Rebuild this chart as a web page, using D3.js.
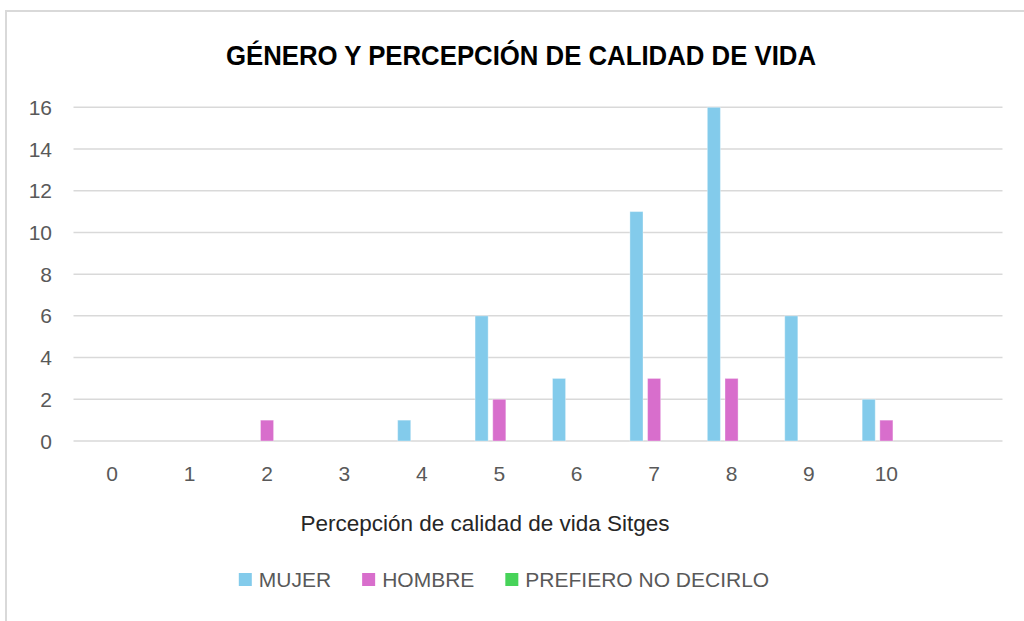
<!DOCTYPE html>
<html>
<head>
<meta charset="utf-8">
<script src="https://cdn.jsdelivr.net/npm/d3@7"></script>
<style>
  html, body { margin: 0; padding: 0; background: #fff; }
  svg { display: block; }
</style>
</head>
<body>
<svg id="chart" width="1024" height="621"></svg>
<script>
// Chart data
var categories = ["0", "1", "2", "3", "4", "5", "6", "7", "8", "9", "10", ""];
var seriesNames = ["MUJER", "HOMBRE", "PREFIERO NO DECIRLO"];
var mujer    = [0, 0, 0, 0, 1, 6, 3, 11, 16, 6, 2, 0];
var hombre   = [0, 0, 1, 0, 0, 2, 0, 3, 3, 0, 1, 0];
var prefiero = [0, 0, 0, 0, 0, 0, 0, 0, 0, 0, 0, 0];
var yTicks = [0, 2, 4, 6, 8, 10, 12, 14, 16];

var colors = ["#83CBEB", "#D86ECC", "#47D359"];
var values = [mujer, hombre, prefiero];

var svg = d3.select("#chart");

// outer frame (cut off at right/bottom like the screenshot)
svg.append("rect")
    .attr("x", 6).attr("y", 11)
    .attr("width", 1040).attr("height", 640)
    .attr("fill", "#fff")
    .attr("stroke", "#d9d9d9")
    .attr("stroke-width", 2);

var plot = { left: 73.5, right: 1002.5, top: 107.3, bottom: 441 };

var x0 = d3.scaleBand()
    .domain(d3.range(categories.length))
    .range([plot.left, plot.right])
    .paddingInner(0).paddingOuter(0);

var x1 = d3.scaleBand()
    .domain(d3.range(seriesNames.length))
    .range([0, x0.bandwidth()])
    .paddingInner(0.26)
    .paddingOuter(0.82);

var y = d3.scaleLinear()
    .domain([0, 16])
    .range([plot.bottom, plot.top]);

// gridlines
svg.append("g")
    .selectAll("line")
    .data(yTicks)
    .join("line")
    .attr("x1", plot.left)
    .attr("x2", plot.right)
    .attr("y1", function(d) { return y(d); })
    .attr("y2", function(d) { return y(d); })
    .attr("stroke", "#d9d9d9")
    .attr("stroke-width", 1.5);

// y tick labels
svg.append("g")
    .selectAll("text")
    .data(yTicks)
    .join("text")
    .attr("x", 52)
    .attr("y", function(d) { return y(d); })
    .attr("dy", "0.36em")
    .attr("text-anchor", "end")
    .attr("font-family", "Liberation Sans, Arial, sans-serif")
    .attr("font-size", 21)
    .attr("fill", "#595959")
    .text(function(d) { return d; });

// x tick labels
svg.append("g")
    .selectAll("text")
    .data(categories)
    .join("text")
    .attr("x", function(d, i) { return x0(i) + x0.bandwidth() / 2; })
    .attr("y", 481)
    .attr("text-anchor", "middle")
    .attr("font-family", "Liberation Sans, Arial, sans-serif")
    .attr("font-size", 21)
    .attr("fill", "#595959")
    .text(function(d) { return d; });

// bars (zero values get no bar)
seriesNames.forEach(function(name, s) {
    var pts = values[s].map(function(v, i) { return { i: i, v: v }; })
        .filter(function(d) { return d.v > 0; });
    svg.append("g")
        .attr("fill", colors[s])
        .selectAll("rect")
        .data(pts)
        .join("rect")
        .attr("x", function(d) { return x0(d.i) + x1(s); })
        .attr("y", function(d) { return y(d.v); })
        .attr("width", x1.bandwidth())
        .attr("height", function(d) { return y(0) - y(d.v); })
        .attr("stroke", "rgba(255,255,255,0.35)")
        .attr("stroke-width", 1);
});

// title
svg.append("text")
    .attr("x", 521)
    .attr("y", 65)
    .attr("text-anchor", "middle")
    .attr("font-family", "Liberation Sans Narrow, Arial Narrow, Liberation Sans, sans-serif")
    .attr("font-weight", "bold")
    .attr("font-size", 28)
    .attr("textLength", 590)
    .attr("lengthAdjust", "spacingAndGlyphs")
    .attr("fill", "#000")
    .text("GÉNERO Y PERCEPCIÓN DE CALIDAD DE VIDA");

// x axis title
svg.append("text")
    .attr("x", 485)
    .attr("y", 531)
    .attr("text-anchor", "middle")
    .attr("font-family", "Liberation Sans, Arial, sans-serif")
    .attr("font-size", 22.5)
    .attr("fill", "#262626")
    .text("Percepción de calidad de vida Sitges");

// legend
var legend = svg.append("g");
var lx = 0;
seriesNames.forEach(function(name, s) {
    var item = legend.append("g").attr("transform", "translate(" + lx + ",0)");
    item.append("rect")
        .attr("x", 0).attr("y", -14)
        .attr("width", 13).attr("height", 13)
        .attr("fill", colors[s]);
    var t = item.append("text")
        .attr("x", 20)
        .attr("y", 0)
        .attr("font-family", "Liberation Sans, Arial, sans-serif")
        .attr("font-size", 21)
        .attr("fill", "#595959")
        .text(name);
    lx += 20 + t.node().getComputedTextLength() + 31;
});
var legendWidth = lx - 31;
legend.attr("transform", "translate(" + (504 - legendWidth / 2) + ",587)");
</script>
</body>
</html>
